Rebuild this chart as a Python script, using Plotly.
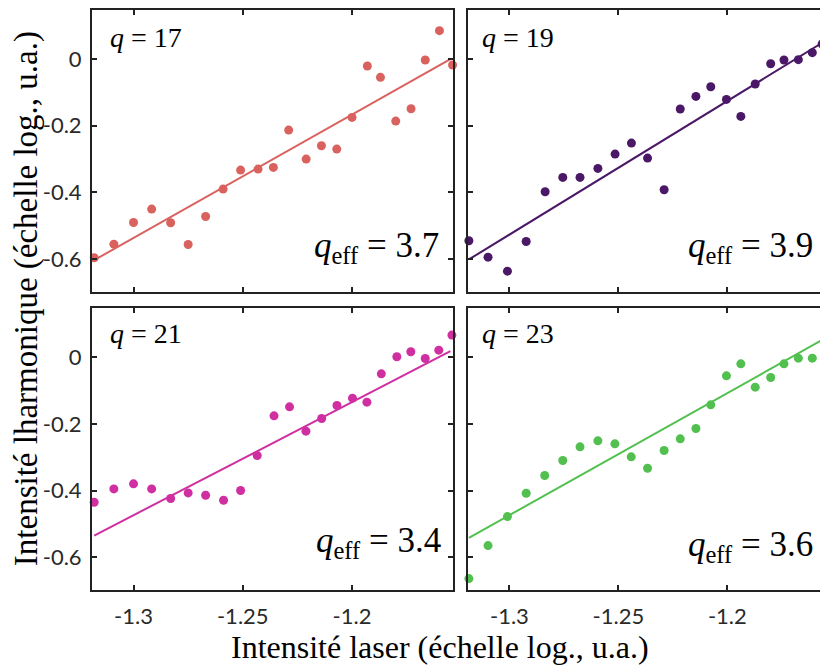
import plotly.graph_objects as go

# ---------------- data ----------------
x17 = [-1.318, -1.309, -1.300, -1.2917, -1.283, -1.275, -1.267, -1.259, -1.251, -1.243, -1.236, -1.229,
       -1.221, -1.214, -1.207, -1.200, -1.193, -1.187, -1.180, -1.173, -1.1665, -1.160, -1.154]
y17 = [-0.596, -0.555, -0.490, -0.450, -0.491, -0.556, -0.472, -0.390, -0.333, -0.330, -0.325, -0.213,
       -0.300, -0.260, -0.270, -0.175, -0.021, -0.055, -0.186, -0.149, -0.003, 0.085, -0.018]
fit17_x = [-1.318, -1.155]
fit17_y = [-0.603, 0.000]

x19 = [-1.3186, -1.3098, -1.3009, -1.2923, -1.2836, -1.2755, -1.2676, -1.2594, -1.2515, -1.244, -1.2366, -1.229,
       -1.2216, -1.2144, -1.2076, -1.2004, -1.1938, -1.1872, -1.1801, -1.174, -1.1674, -1.161, -1.1565]
y19 = [-0.545, -0.594, -0.636, -0.547, -0.398, -0.355, -0.355, -0.328, -0.285, -0.252, -0.297, -0.392,
       -0.150, -0.112, -0.083, -0.121, -0.172, -0.075, -0.014, -0.003, -0.002, 0.019, 0.045]
fit19_x = [-1.3186, -1.1569]
fit19_y = [-0.601, 0.047]

x21 = [-1.318, -1.309, -1.300, -1.2917, -1.283, -1.275, -1.267, -1.2588, -1.251, -1.2434, -1.2357, -1.2286,
       -1.2211, -1.2139, -1.2069, -1.1998, -1.1932, -1.1866, -1.1795, -1.1731, -1.1665, -1.1603, -1.1543]
y21 = [-0.435, -0.395, -0.380, -0.395, -0.424, -0.407, -0.414, -0.429, -0.400, -0.295, -0.176, -0.149,
       -0.222, -0.184, -0.145, -0.123, -0.135, -0.050, 0.001, 0.016, -0.004, 0.021, 0.066]
fit21_x = [-1.318, -1.155]
fit21_y = [-0.535, 0.018]

x23 = [-1.3186, -1.3098, -1.3009, -1.2923, -1.2838, -1.2755, -1.2676, -1.2594, -1.2516, -1.2441, -1.2366,
       -1.229, -1.2216, -1.2144, -1.2076, -1.2004, -1.1938, -1.1872, -1.1801, -1.174, -1.1674, -1.161]
y23 = [-0.664, -0.565, -0.478, -0.408, -0.355, -0.310, -0.269, -0.251, -0.260, -0.299, -0.333,
       -0.280, -0.245, -0.214, -0.143, -0.056, -0.020, -0.090, -0.061, -0.020, -0.003, -0.003]
fit23_x = [-1.3186, -1.1569]
fit23_y = [-0.542, 0.050]

harmonics = ["17", "19", "21", "23"]
qeff = ["3.7", "3.9", "3.4", "3.6"]
colors = ["#d9625f", "#4a1866", "#cf2fa0", "#52c04f"]

xticks = [-1.3, -1.25, -1.2]
xtick_text = ["-1.3", "-1.25", "-1.2"]
yticks = [0, -0.2, -0.4, -0.6]
ytick_text = ["0", "-0.2", "-0.4", "-0.6"]

xtitle = "Intensité laser (échelle log., u.a.)"
ytitle = "Intensité lharmonique (échelle log., u.a.)"

# ---------------- figure ----------------
W, H = 828, 670
OFF = 8  # page body margin
px_x = [(92, 453), (468, 828), (92, 453), (468, 828)]
px_y = [(8, 291), (8, 291), (307, 590), (307, 590)]

series = [(x17, y17, fit17_x, fit17_y), (x19, y19, fit19_x, fit19_y),
          (x21, y21, fit21_x, fit21_y), (x23, y23, fit23_x, fit23_y)]


def fx(p):
    return (p - OFF) / W


def fy(p):
    return 1 - (p - OFF) / H


fig = go.Figure()
serif = "Liberation Serif"
tickfont = dict(family="Lato", size=22, color="#2a2a2a")
frame = "#222222"

qpos = [(108, 36), (480, 36), (108, 332), (480, 332)]
qeffpos = [(441, 246), (815, 246), (443, 542), (815, 546)]

for i in range(4):
    xs, ys, lx, ly = series[i]
    sfx = "" if i == 0 else str(i + 1)
    fig.add_trace(go.Scatter(x=lx, y=ly, mode="lines", line=dict(color=colors[i], width=2),
                             xaxis="x" + sfx, yaxis="y" + sfx, showlegend=False, hoverinfo="skip"))
    fig.add_trace(go.Scatter(x=xs, y=ys, mode="markers", marker=dict(color=colors[i], size=9),
                             cliponaxis=False,
                             xaxis="x" + sfx, yaxis="y" + sfx, showlegend=False))
    x0, x1 = px_x[i]
    y0, y1 = px_y[i]
    bottom = i >= 2
    left = i % 2 == 0
    fig.layout["xaxis" + sfx] = dict(
        domain=[fx(x0), fx(x1)], anchor="y" + sfx, range=[-1.3190, -1.1538],
        tickvals=xticks, ticktext=xtick_text, showticklabels=bottom,
        ticks="inside", ticklen=5, tickwidth=1.5, tickcolor=frame,
        showline=True, linecolor=frame, linewidth=2, mirror="ticks",
        showgrid=False, zeroline=False, tickfont=tickfont, ticklabelstandoff=5)
    fig.layout["yaxis" + sfx] = dict(
        domain=[fy(y1), fy(y0)], anchor="x" + sfx, range=[-0.699, 0.147],
        tickvals=yticks, ticktext=ytick_text, showticklabels=left,
        ticks="inside", ticklen=5, tickwidth=1.5, tickcolor=frame,
        showline=True, linecolor=frame, linewidth=2, mirror="ticks",
        showgrid=False, zeroline=False, tickfont=tickfont, ticklabelstandoff=4)
    qx, qy = qpos[i]
    fig.add_annotation(xref="paper", yref="paper", x=fx(qx), y=fy(qy),
                       xanchor="left", yanchor="middle", showarrow=False,
                       text="<i>q</i> = " + harmonics[i],
                       font=dict(family=serif, size=28, color="black"))
    ex, ey = qeffpos[i]
    fig.add_annotation(xref="paper", yref="paper", x=fx(ex), y=fy(ey),
                       xanchor="right", yanchor="middle", showarrow=False,
                       text="<i>q</i><sub>eff</sub> = " + qeff[i],
                       font=dict(family=serif, size=35, color="black"))

fig.add_annotation(xref="paper", yref="paper", x=fx(440), y=fy(647),
                   xanchor="center", yanchor="middle", showarrow=False, text=xtitle,
                   font=dict(family=serif, size=32, color="black"))
fig.add_annotation(xref="paper", yref="paper", x=fx(26), y=fy(298),
                   xanchor="center", yanchor="middle", showarrow=False, text=ytitle,
                   textangle=-90, font=dict(family=serif, size=33, color="black"))

fig.update_layout(width=W, height=H, margin=dict(l=0, r=0, t=0, b=0),
                  plot_bgcolor="white", paper_bgcolor="white")

fig.write_html("out.html")
